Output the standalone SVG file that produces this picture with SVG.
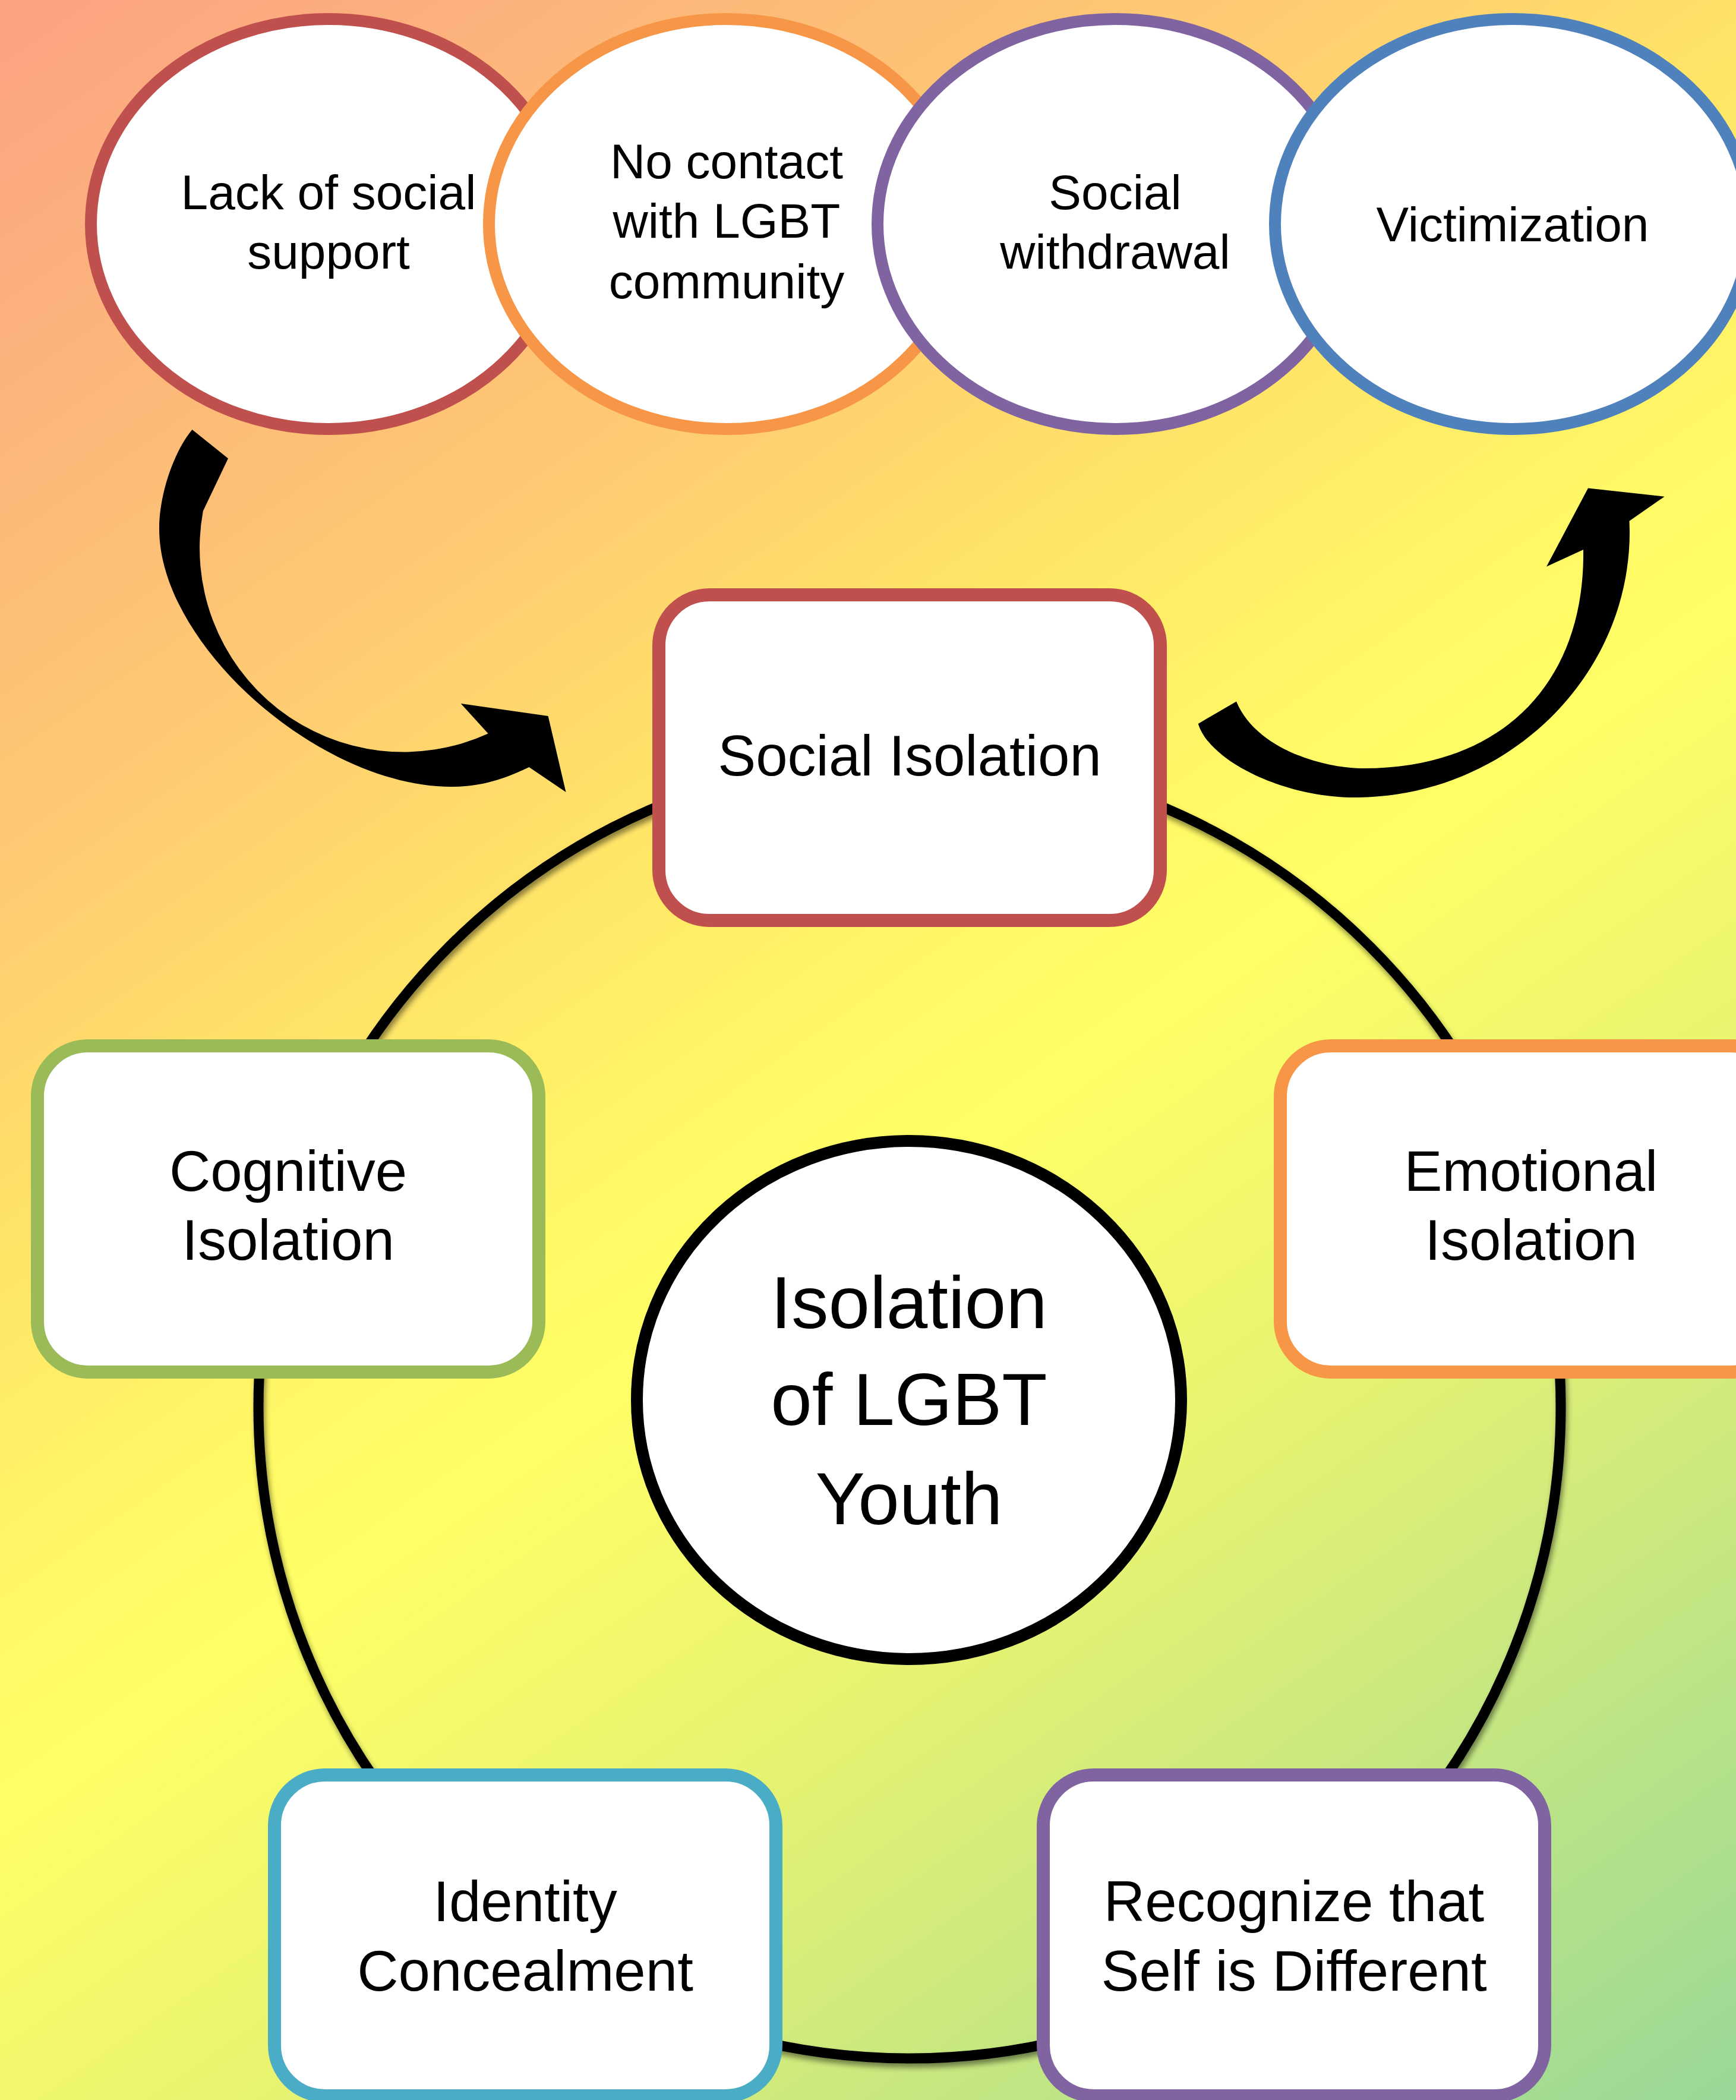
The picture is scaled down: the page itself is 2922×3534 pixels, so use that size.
<svg xmlns="http://www.w3.org/2000/svg" width="2922" height="3534" viewBox="0 0 2922 3534">
<defs>
<linearGradient id="bg" gradientUnits="userSpaceOnUse" x1="0" y1="0" x2="2607" y2="3754">
<stop offset="0" stop-color="#FBA283"/>
<stop offset="0.27" stop-color="#FECB72"/>
<stop offset="0.37" stop-color="#FFE268"/>
<stop offset="0.5" stop-color="#FFFA66"/>
<stop offset="0.55" stop-color="#FFFF66"/>
<stop offset="0.7" stop-color="#E6F272"/>
<stop offset="0.82" stop-color="#C8E880"/>
<stop offset="1" stop-color="#98D898"/>
</linearGradient>
<filter id="sh" x="-10%" y="-10%" width="120%" height="120%">
<feDropShadow dx="3" dy="7" stdDeviation="5" flood-color="#000" flood-opacity="0.45"/>
</filter>
</defs>
<style>
.t{font-family:"Liberation Sans",Arial,sans-serif;fill:#000;text-anchor:middle}
.e{font-size:82px}
.b{font-size:96px}
.c{font-size:125px}
.oval{fill:#fff;stroke-width:20}
.box{fill:#fff;stroke-width:22}
.arrow{fill:#000}
</style>
<rect width="2922" height="3534" fill="url(#bg)"/>

<g id="connectors">
<circle id="ring" cx="1531" cy="2368" r="1096" fill="none" stroke="#000" stroke-width="17" filter="url(#sh)"/>
<path id="arrow-left" class="arrow" d="M 323.5,723 C 293.5,759 268,830 268,890 C 268,1085.3 538.6,1324 760,1324 C 820,1324 860,1305 890.5,1291 L 952.5,1333 L 922.6,1205 L 775.7,1184 L 821.6,1234.5 A 343 343 0 0 1 341.8,860 L 384,771.5 Z"/>
<path id="arrow-right" class="arrow" d="M 2016.8,1217.9 C 2035,1280 2160,1342 2280,1342 C 2534.7,1342 2743,1140.9 2743,895 L 2742.5,876.8 L 2801.5,835.7 L 2673,821.4 L 2603,953.6 L 2665,925 C 2668,1153 2524.4,1293 2295,1293 C 2230,1293 2115,1262 2081,1180.4 Z"/>
</g>

<g id="lack-of-social-support">
<ellipse class="oval" cx="553" cy="377" rx="400" ry="345" stroke="#C0504D"/>
<text class="t e" x="553" y="352">Lack of social</text>
<text class="t e" x="553" y="452">support</text>
</g>
<g id="no-contact">
<ellipse class="oval" cx="1223" cy="377" rx="400" ry="345" stroke="#F79646"/>
<text class="t e" x="1223" y="300">No contact</text>
<text class="t e" x="1223" y="400">with LGBT</text>
<text class="t e" x="1223" y="502">community</text>
</g>
<g id="social-withdrawal">
<ellipse class="oval" cx="1877" cy="377" rx="400" ry="345" stroke="#8064A2"/>
<text class="t e" x="1877" y="352">Social</text>
<text class="t e" x="1877" y="452">withdrawal</text>
</g>
<g id="victimization">
<ellipse class="oval" cx="2546" cy="377" rx="400" ry="345" stroke="#4F81BD"/>
<text class="t e" x="2546" y="406">Victimization</text>
</g>

<g id="social-isolation">
<rect class="box" x="1109" y="1001" width="844" height="548" rx="85" stroke="#C0504D"/>
<text class="t b" x="1531" y="1305">Social Isolation</text>
</g>
<g id="cognitive-isolation">
<rect class="box" x="63" y="1760" width="844" height="549" rx="85" stroke="#9BBB59"/>
<text class="t b" x="485" y="2004">Cognitive</text>
<text class="t b" x="485" y="2120">Isolation</text>
</g>
<g id="emotional-isolation">
<rect class="box" x="2155" y="1760" width="844" height="549" rx="85" stroke="#F79646"/>
<text class="t b" x="2577" y="2004">Emotional</text>
<text class="t b" x="2577" y="2120">Isolation</text>
</g>
<g id="identity-concealment">
<rect class="box" x="462" y="2987" width="844" height="540" rx="85" stroke="#4BACC6"/>
<text class="t b" x="884" y="3233">Identity</text>
<text class="t b" x="884" y="3350">Concealment</text>
</g>
<g id="recognize-self-different">
<rect class="box" x="1756" y="2987" width="844" height="540" rx="85" stroke="#8064A2"/>
<text class="t b" x="2178" y="3233">Recognize that</text>
<text class="t b" x="2178" y="3350">Self is Different</text>
</g>

<g id="isolation-of-lgbt-youth">
<ellipse cx="1530" cy="2356" rx="458" ry="436" fill="#fff" stroke="#000" stroke-width="20"/>
<text class="t c" x="1530" y="2235">Isolation</text>
<text class="t c" x="1530" y="2398">of LGBT</text>
<text class="t c" x="1530" y="2565">Youth</text>
</g>
</svg>
